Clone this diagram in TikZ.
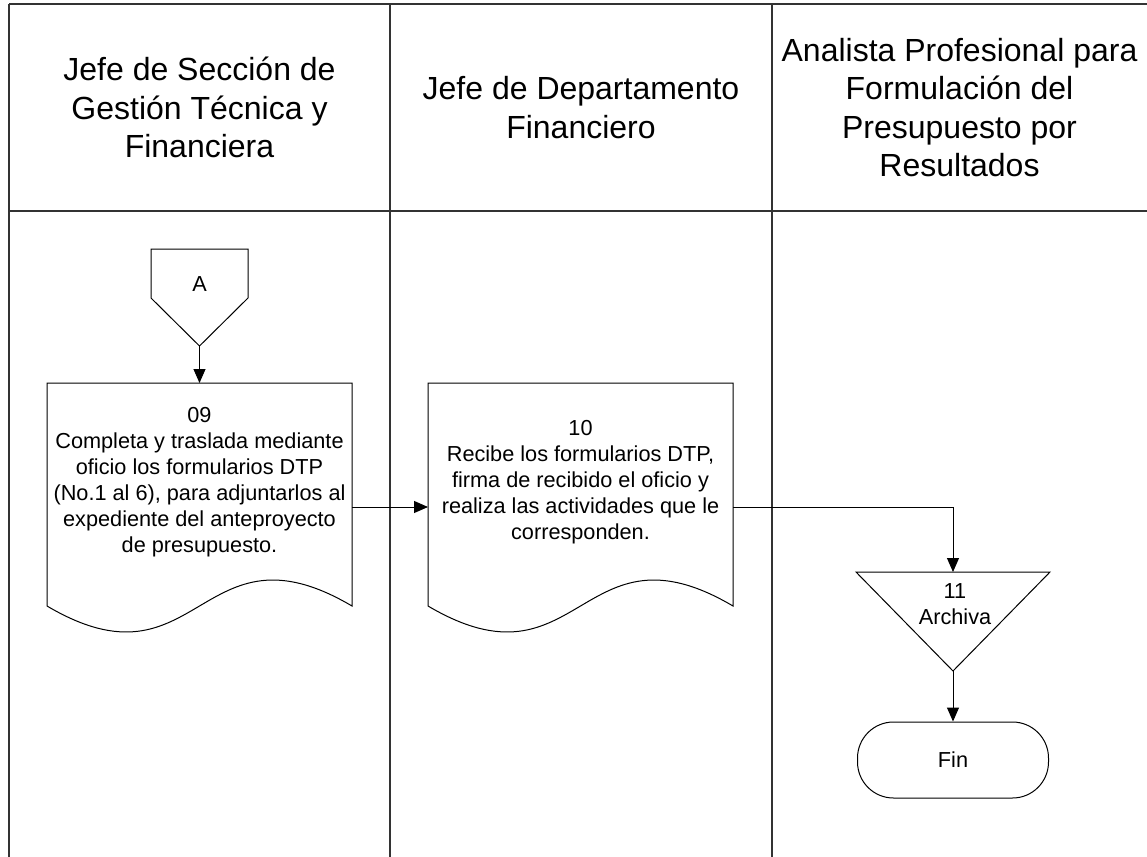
\documentclass[tikz,border=0pt]{standalone}
\usepackage{fontspec}
\setmainfont{Liberation Sans}
\usetikzlibrary{arrows.meta,positioning,calc}

\begin{document}
\begin{tikzpicture}[x=0.5pt, y=-0.5pt,
    lane/.style={draw=black!80, line width=0.6pt},
    lanehead/.style={minimum height=103.5pt, inner sep=0pt, outer sep=0pt, align=center,
        font=\fontsize{16}{19.25}\selectfont},
    flow/.style={line width=0.5pt},
    arr/.style={flow, -{Triangle[length=7pt, width=6pt]}},
    txt/.style={align=center, inner sep=0pt, font=\fontsize{10.85}{13}\selectfont},
    docarea/.style={minimum width=152.5pt, minimum height=124pt, inner sep=0pt, outer sep=0pt}]
    \useasboundingbox (0,0) rectangle (1147,857);

    % Lane headers
    \node[lanehead, minimum width=190.5pt] (h1) at (199.5,107.5) {Jefe de Sección de\\Gestión Técnica y\\Financiera};
    \node[lanehead, minimum width=191pt] (h2) at (581,107.5) {Jefe de Departamento\\Financiero};
    \node[lanehead, minimum width=187.5pt] (h3) at (959.5,107.5) {Analista Profesional para\\Formulación del\\Presupuesto por\\Resultados};

    % Lane lines
    \coordinate (bottom) at (0,857);
    \draw[lane] (h1.north west) -- (h3.north east);
    \draw[lane] (h1.south west) -- (h3.south east);
    \foreach \h in {h1,h2,h3}
        \draw[lane] (\h.north west) -- (\h.north west |- bottom);

    % Off-page connector A
    \node[txt] (A) at (199.5,284) {A};
    \draw[flow] (151,249) -- (248,249) -- (248,298) -- (199.5,346) coordinate (Atip) -- (151,298) -- cycle;

    % Document 09
    \node[docarea] (d09) at (199.5,507) {};
    \draw[flow] (d09.north west) -- (d09.north east) -- ($(d09.south east)+(0,-25)$)
        .. controls ($(d09.south east)+(-152.5,-115)$) and ($(d09.south east)+(-152.5,65)$)
        .. ($(d09.south west)+(0,-25)$) -- cycle;
    \node[txt] (t09) at ($(d09.center)+(0,-24.5)$) {09\\Completa y traslada mediante\\oficio los formularios DTP\\(No.1 al 6), para adjuntarlos al\\expediente del anteproyecto\\de presupuesto.};

    % Document 10
    \node[docarea] (d10) at (580.5,507) {};
    \draw[flow] (d10.north west) -- (d10.north east) -- ($(d10.south east)+(0,-25)$)
        .. controls ($(d10.south east)+(-152.5,-115)$) and ($(d10.south east)+(-152.5,65)$)
        .. ($(d10.south west)+(0,-25)$) -- cycle;
    \node[txt] (t10) at ($(d10.center)+(0,-24.5)$) {10\\Recibe los formularios DTP,\\firma de recibido el oficio y\\realiza las actividades que le\\corresponden.};

    % Archive 11
    \coordinate (top11) at (953,572);
    \draw[flow] (856,572) -- (1050,572) -- (953,671) coordinate (apex11) -- cycle;
    \node[txt] (t11) at (955,604.5) {11\\Archiva};

    % End
    \node[txt, draw, flow, rounded corners=18pt, minimum width=95.5pt, minimum height=38pt] (fin) at (953,760) {Fin};

    % Connectors
    \draw[arr] (Atip) -- (d09.north);
    \draw[arr] (d09.east) -- (d10.west);
    \draw[arr] (d10.east) -| (top11);
    \draw[arr] (apex11) -- (fin.north);
\end{tikzpicture}
\end{document}
